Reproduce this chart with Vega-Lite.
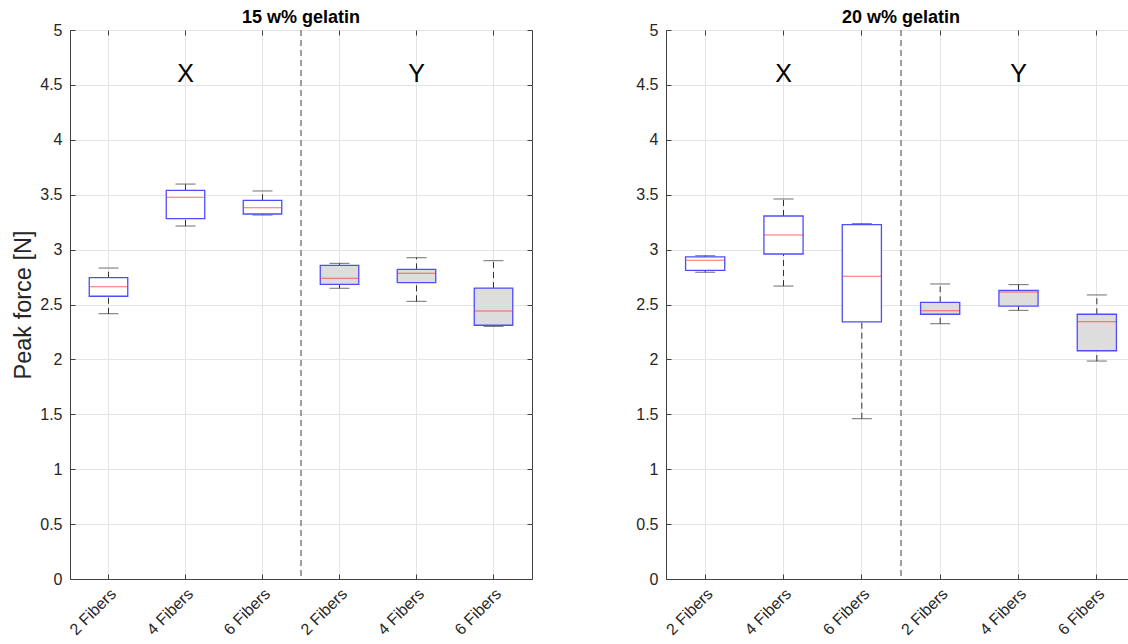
{
  "$schema": "https://vega.github.io/schema/vega-lite/v6.json",
  "background": "white",
  "autosize": {"type": "pad"},
  "padding": {"left": 11, "top": 8, "right": 0, "bottom": 0},
  "datasets": {
    "box15": [
      {"slot": "X|2 Fibers", "group": "X", "lo": 2.416, "q1": 2.575, "med": 2.662, "q3": 2.744, "hi": 2.832},
      {"slot": "X|4 Fibers", "group": "X", "lo": 3.215, "q1": 3.282, "med": 3.476, "q3": 3.540, "hi": 3.597},
      {"slot": "X|6 Fibers", "group": "X", "lo": 3.315, "q1": 3.324, "med": 3.382, "q3": 3.449, "hi": 3.534},
      {"slot": "Y|2 Fibers", "group": "Y", "lo": 2.648, "q1": 2.684, "med": 2.739, "q3": 2.857, "hi": 2.875},
      {"slot": "Y|4 Fibers", "group": "Y", "lo": 2.529, "q1": 2.699, "med": 2.784, "q3": 2.820, "hi": 2.926},
      {"slot": "Y|6 Fibers", "group": "Y", "lo": 2.301, "q1": 2.311, "med": 2.441, "q3": 2.650, "hi": 2.899}
    ],
    "box20": [
      {"slot": "X|2 Fibers", "group": "X", "lo": 2.793, "q1": 2.811, "med": 2.902, "q3": 2.933, "hi": 2.945},
      {"slot": "X|4 Fibers", "group": "X", "lo": 2.668, "q1": 2.960, "med": 3.133, "q3": 3.306, "hi": 3.461},
      {"slot": "X|6 Fibers", "group": "X", "lo": 1.460, "q1": 2.341, "med": 2.757, "q3": 3.227, "hi": 3.236},
      {"slot": "Y|2 Fibers", "group": "Y", "lo": 2.325, "q1": 2.411, "med": 2.444, "q3": 2.520, "hi": 2.687},
      {"slot": "Y|4 Fibers", "group": "Y", "lo": 2.447, "q1": 2.486, "med": 2.614, "q3": 2.629, "hi": 2.681},
      {"slot": "Y|6 Fibers", "group": "Y", "lo": 1.985, "q1": 2.079, "med": 2.344, "q3": 2.411, "hi": 2.587}
    ],
    "tags": [
      {"slot": "X|4 Fibers", "text": "X", "y": 4.6},
      {"slot": "Y|4 Fibers", "text": "Y", "y": 4.6}
    ],
    "divider": [
      {"slot": "Y|2 Fibers"}
    ]
  },
  "hconcat": [
    {
      "width": 462,
      "height": 549,
      "title": "15 w% gelatin",
      "resolve": {"axis": {"x": "independent", "y": "independent"}},
      "layer": [
        {
          "layer": [
            {
              "data": {"name": "divider"},
              "mark": {"type": "rule", "strokeDash": [6, 4], "color": "#808080", "strokeWidth": 1.5},
              "encoding": {
                "x": {"field": "slot", "type": "nominal", "bandPosition": 0, "title": null,
                      "scale": {"domain": ["X|2 Fibers", "X|4 Fibers", "X|6 Fibers", "Y|2 Fibers", "Y|4 Fibers", "Y|6 Fibers"], "paddingInner": 0, "paddingOuter": 0}}
              }
            },
            {
              "data": {"name": "box15"},
              "mark": {"type": "rule", "strokeDash": [6, 4], "color": "#303030"},
              "encoding": {
                "x": {"field": "slot", "type": "nominal", "title": null,
                      "scale": {"domain": ["X|2 Fibers", "X|4 Fibers", "X|6 Fibers", "Y|2 Fibers", "Y|4 Fibers", "Y|6 Fibers"], "paddingInner": 0, "paddingOuter": 0},
                      "axis": {"labelExpr": "split(datum.value, '|')[1]", "labelAngle": -45, "grid": true, "tickSize": -5, "labelPadding": 17, "labelOffset": 5}},
                "y": {"field": "lo", "type": "quantitative", "title": "Peak force [N]",
                      "scale": {"domain": [0, 5], "nice": false},
                      "axis": {"values": [0, 0.5, 1, 1.5, 2, 2.5, 3, 3.5, 4, 4.5, 5], "format": "~g", "grid": true, "tickSize": -5, "labelPadding": 13, "titlePadding": 4}},
                "y2": {"field": "q1"}
              }
            },
            {
              "data": {"name": "box15"},
              "mark": {"type": "rule", "strokeDash": [6, 4], "color": "#303030"},
              "encoding": {
                "x": {"field": "slot", "type": "nominal", "title": null},
                "y": {"field": "q3", "type": "quantitative", "title": "Peak force [N]"},
                "y2": {"field": "hi"}
              }
            },
            {
              "data": {"name": "box15"},
              "mark": {"type": "tick", "size": 20, "thickness": 1, "color": "#303030"},
              "encoding": {
                "x": {"field": "slot", "type": "nominal", "title": null},
                "y": {"field": "lo", "type": "quantitative", "title": "Peak force [N]"}
              }
            },
            {
              "data": {"name": "box15"},
              "mark": {"type": "tick", "size": 20, "thickness": 1, "color": "#303030"},
              "encoding": {
                "x": {"field": "slot", "type": "nominal", "title": null},
                "y": {"field": "hi", "type": "quantitative", "title": "Peak force [N]"}
              }
            },
            {
              "data": {"name": "box15"},
              "mark": {"type": "bar", "width": {"band": 0.5}, "stroke": "#4d4dff", "strokeWidth": 1.3},
              "encoding": {
                "x": {"field": "slot", "type": "nominal", "title": null},
                "y": {"field": "q1", "type": "quantitative", "title": "Peak force [N]"},
                "y2": {"field": "q3"},
                "color": {"field": "group", "type": "nominal", "legend": null,
                          "scale": {"domain": ["X", "Y"], "range": ["#ffffff", "#dddddd"]}}
              }
            },
            {
              "data": {"name": "box15"},
              "mark": {"type": "tick", "size": 39, "thickness": 1, "color": "#ff2a2a"},
              "encoding": {
                "x": {"field": "slot", "type": "nominal", "title": null},
                "y": {"field": "med", "type": "quantitative", "title": "Peak force [N]"}
              }
            }
          ]
        },
        {
          "data": {"name": "tags"},
          "mark": {"type": "text", "fontSize": 25, "font": "Liberation Sans", "color": "#000000", "baseline": "middle"},
          "encoding": {
            "x": {"field": "slot", "type": "nominal", "title": null,
                  "axis": {"orient": "top", "labels": false, "grid": false, "domain": false, "tickSize": -5}},
            "y": {"field": "y", "type": "quantitative", "title": null,
                  "axis": {"orient": "right", "labels": false, "grid": false, "domain": false, "tickSize": -5,
                           "values": [0, 0.5, 1, 1.5, 2, 2.5, 3, 3.5, 4, 4.5, 5]}},
            "text": {"field": "text"}
          }
        }
      ]
    },
    {
      "width": 470,
      "height": 549,
      "title": "20 w% gelatin",
      "resolve": {"axis": {"x": "independent", "y": "independent"}},
      "layer": [
        {
          "layer": [
            {
              "data": {"name": "divider"},
              "mark": {"type": "rule", "strokeDash": [6, 4], "color": "#808080", "strokeWidth": 1.5},
              "encoding": {
                "x": {"field": "slot", "type": "nominal", "bandPosition": 0, "title": null,
                      "scale": {"domain": ["X|2 Fibers", "X|4 Fibers", "X|6 Fibers", "Y|2 Fibers", "Y|4 Fibers", "Y|6 Fibers"], "paddingInner": 0, "paddingOuter": 0}}
              }
            },
            {
              "data": {"name": "box20"},
              "mark": {"type": "rule", "strokeDash": [6, 4], "color": "#303030"},
              "encoding": {
                "x": {"field": "slot", "type": "nominal", "title": null,
                      "scale": {"domain": ["X|2 Fibers", "X|4 Fibers", "X|6 Fibers", "Y|2 Fibers", "Y|4 Fibers", "Y|6 Fibers"], "paddingInner": 0, "paddingOuter": 0},
                      "axis": {"labelExpr": "split(datum.value, '|')[1]", "labelAngle": -45, "grid": true, "tickSize": -5, "labelPadding": 17, "labelOffset": 5}},
                "y": {"field": "lo", "type": "quantitative", "title": null,
                      "scale": {"domain": [0, 5], "nice": false},
                      "axis": {"values": [0, 0.5, 1, 1.5, 2, 2.5, 3, 3.5, 4, 4.5, 5], "format": "~g", "grid": true, "tickSize": -5, "labelPadding": 13}},
                "y2": {"field": "q1"}
              }
            },
            {
              "data": {"name": "box20"},
              "mark": {"type": "rule", "strokeDash": [6, 4], "color": "#303030"},
              "encoding": {
                "x": {"field": "slot", "type": "nominal", "title": null},
                "y": {"field": "q3", "type": "quantitative", "title": null},
                "y2": {"field": "hi"}
              }
            },
            {
              "data": {"name": "box20"},
              "mark": {"type": "tick", "size": 20, "thickness": 1, "color": "#303030"},
              "encoding": {
                "x": {"field": "slot", "type": "nominal", "title": null},
                "y": {"field": "lo", "type": "quantitative", "title": null}
              }
            },
            {
              "data": {"name": "box20"},
              "mark": {"type": "tick", "size": 20, "thickness": 1, "color": "#303030"},
              "encoding": {
                "x": {"field": "slot", "type": "nominal", "title": null},
                "y": {"field": "hi", "type": "quantitative", "title": null}
              }
            },
            {
              "data": {"name": "box20"},
              "mark": {"type": "bar", "width": {"band": 0.5}, "stroke": "#4d4dff", "strokeWidth": 1.3},
              "encoding": {
                "x": {"field": "slot", "type": "nominal", "title": null},
                "y": {"field": "q1", "type": "quantitative", "title": null},
                "y2": {"field": "q3"},
                "color": {"field": "group", "type": "nominal", "legend": null,
                          "scale": {"domain": ["X", "Y"], "range": ["#ffffff", "#dddddd"]}}
              }
            },
            {
              "data": {"name": "box20"},
              "mark": {"type": "tick", "size": 39, "thickness": 1, "color": "#ff2a2a"},
              "encoding": {
                "x": {"field": "slot", "type": "nominal", "title": null},
                "y": {"field": "med", "type": "quantitative", "title": null}
              }
            }
          ]
        },
        {
          "data": {"name": "tags"},
          "mark": {"type": "text", "fontSize": 25, "font": "Liberation Sans", "color": "#000000", "baseline": "middle"},
          "encoding": {
            "x": {"field": "slot", "type": "nominal", "title": null,
                  "axis": {"orient": "top", "labels": false, "grid": false, "domain": false, "tickSize": -5}},
            "y": {"field": "y", "type": "quantitative", "title": null,
                  "axis": {"orient": "right", "labels": false, "grid": false, "domain": false, "tickSize": -5,
                           "values": [0, 0.5, 1, 1.5, 2, 2.5, 3, 3.5, 4, 4.5, 5]}},
            "text": {"field": "text"}
          }
        }
      ]
    }
  ],
  "spacing": 102,
  "config": {
    "font": "Liberation Sans",
    "view": {"stroke": "#404040", "strokeWidth": 1},
    "title": {"fontSize": 18, "fontWeight": "bold", "font": "Liberation Sans", "color": "#000000", "anchor": "middle", "offset": -5},
    "axis": {
      "domainColor": "#404040",
      "tickColor": "#404040",
      "gridColor": "#e4e4e4",
      "gridWidth": 1,
      "labelColor": "#262626",
      "labelFontSize": 16,
      "labelFont": "Liberation Sans",
      "titleFont": "Liberation Sans",
      "titleFontSize": 23.5,
      "titleFontWeight": "normal",
      "titleColor": "#262626"
    }
  }
}
